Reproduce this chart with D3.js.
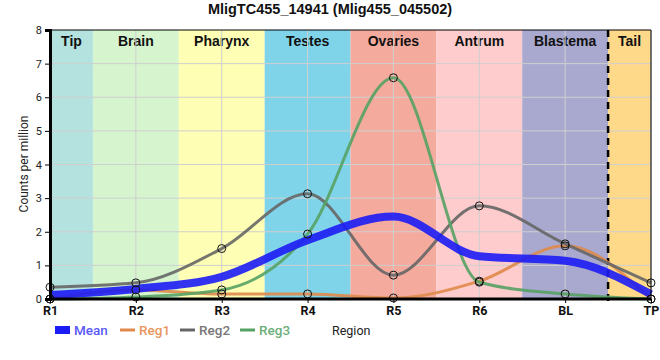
<!DOCTYPE html>
<html><head><meta charset="utf-8">
<script src="https://cdn.jsdelivr.net/npm/d3@7"></script>
<style>body{margin:0;background:#fff}svg{display:block}</style>
</head><body>
<svg id="c" width="660" height="360"></svg>
<script>
const positions = ["R1","R2","R3","R4","R5","R6","BL","TP"];
const regionNames = ["Tip","Brain","Pharynx","Testes","Ovaries","Antrum","Blastema","Tail"];
const regionColors = ["#b3e2df","#d6f5cf","#fefeb4","#80d4ea","#f5aa9e","#fecccc","#a9a8ce","#fed98a"];
const meanVals = [0.12, 0.30, 0.66, 1.75, 2.45, 1.27, 1.14, 0.14];
const reg1 = [0.0, 0.27, 0.15, 0.15, 0.03, 0.53, 1.58, 0.0];
const reg2 = [0.35, 0.48, 1.50, 3.13, 0.71, 2.77, 1.64, 0.48];
const reg3 = [0.0, 0.06, 0.27, 1.93, 6.58, 0.50, 0.15, 0.0];
const yTicks = [0,1,2,3,4,5,6,7,8];
const title = "MligTC455_14941 (Mlig455_045502)";

const svg = d3.select("#c");
const L = 50, R = 651, T = 30, B = 299;
const x = d3.scalePoint().domain(positions).range([L, R]);
const y = d3.scaleLinear().domain([0, 8]).range([B, T]);
const step = x.step();

// region backgrounds
regionNames.forEach((n, i) => {
  const x0 = i === 0 ? L : x(positions[i]) - step / 2;
  const x1 = i === regionNames.length - 1 ? R : x(positions[i]) + step / 2;
  svg.append("rect").attr("x", x0).attr("y", T).attr("width", x1 - x0).attr("height", B - T).attr("fill", regionColors[i]);
  svg.append("text").attr("x", (x0 + x1) / 2).attr("y", T + 16).attr("text-anchor", "middle")
    .attr("font-family", "'Liberation Sans Narrow','Arial Narrow',sans-serif").attr("font-weight", "bold")
    .attr("font-size", 14).attr("fill", "#111").text(n);
});

// grid
const g = svg.append("g");
yTicks.slice(1, -1).forEach(t => g.append("line").attr("x1", L).attr("x2", R).attr("y1", y(t)).attr("y2", y(t)).attr("stroke", "#cfcfcf").attr("stroke-width", 1));
positions.forEach(p => g.append("line").attr("x1", x(p)).attr("x2", x(p)).attr("y1", T).attr("y2", B).attr("stroke", "#cfcfcf").attr("stroke-width", 1));

// dashed separator
const dashX = x("BL") + step / 2;
svg.append("line").attr("x1", dashX).attr("x2", dashX).attr("y1", T).attr("y2", B + 6).attr("stroke", "#000").attr("stroke-width", 2.5).attr("stroke-dasharray", "7,5");

// lines
const line = d3.line().x((d, i) => x(positions[i])).y(d => y(d)).curve(d3.curveMonotoneX);
const series = [
  {name: "Reg1", vals: reg1, color: "#e0894a"},
  {name: "Reg2", vals: reg2, color: "#666666"},
  {name: "Reg3", vals: reg3, color: "#55a264"}
];
series.forEach(s => svg.append("path").attr("d", line(s.vals)).attr("fill", "none").attr("stroke", s.color).attr("stroke-width", 3).attr("stroke-opacity", 0.9));
svg.append("path").attr("d", line(meanVals)).attr("fill", "none").attr("stroke", "#1c1cf5").attr("stroke-width", 8).attr("stroke-opacity", 0.9);

// points
series.forEach(s => s.vals.forEach((v, i) => svg.append("circle").attr("cx", x(positions[i])).attr("cy", y(v)).attr("r", 4)
  .attr("fill", "none").attr("stroke", "#111").attr("stroke-width", 1)));

// axes
svg.append("line").attr("x1", L).attr("x2", R).attr("y1", T).attr("y2", T).attr("stroke", "#000").attr("stroke-width", 1);
svg.append("line").attr("x1", R).attr("x2", R).attr("y1", T).attr("y2", B).attr("stroke", "#000").attr("stroke-width", 1);
const ya = svg.append("g").attr("transform", `translate(${L},0)`)
  .call(d3.axisLeft(y).tickValues(yTicks).tickSize(5).tickFormat(d3.format("d")));
ya.select(".domain").attr("stroke-width", 3);
ya.selectAll("text").attr("font-family", "Roboto, sans-serif").attr("font-size", 11).attr("fill", "#222");
const xa = svg.append("g").attr("transform", `translate(0,${B})`)
  .call(d3.axisBottom(x).tickSize(4).tickPadding(3));
xa.select(".domain").attr("stroke-width", 3).attr("d", `M${L},0H${R}`);
xa.selectAll("text").attr("font-family", "Roboto, sans-serif").attr("font-size", 12.5).attr("font-weight", "bold").attr("fill", "#111");

// title & labels
svg.append("text").attr("x", 330).attr("y", 14).attr("text-anchor", "middle")
  .attr("font-family", "'Liberation Sans Narrow','Arial Narrow',sans-serif").attr("font-weight", "bold").attr("font-size", 14.5).attr("fill", "#111").text(title);
svg.append("text").attr("transform", "translate(28,164) rotate(-90)").attr("text-anchor", "middle")
  .attr("font-family", "Roboto, sans-serif").attr("font-size", 12).attr("fill", "#222").text("Counts per million");
svg.append("text").attr("x", 332).attr("y", 335).attr("font-family", "Roboto, sans-serif").attr("font-size", 12.5).attr("fill", "#222").text("Region");

// legend
const legend = [
  {name: "Mean", color: "#1c1cf5", text: "#5a5af7", w: 8, x0: 55},
  {name: "Reg1", color: "#e0894a", text: "#e8965e", w: 3, x0: 120},
  {name: "Reg2", color: "#666666", text: "#777777", w: 3, x0: 180},
  {name: "Reg3", color: "#55a264", text: "#6cb07a", w: 3, x0: 240}
];
legend.forEach(l => {
  svg.append("line").attr("x1", l.x0).attr("x2", l.x0 + 15).attr("y1", 330).attr("y2", 330).attr("stroke", l.color).attr("stroke-width", l.w);
  svg.append("text").attr("x", l.x0 + 19).attr("y", 335).attr("font-family", "Roboto, sans-serif").attr("font-size", 13.5)
    .attr("font-weight", 500).attr("fill", l.text).text(l.name);
});
</script>
</body></html>
